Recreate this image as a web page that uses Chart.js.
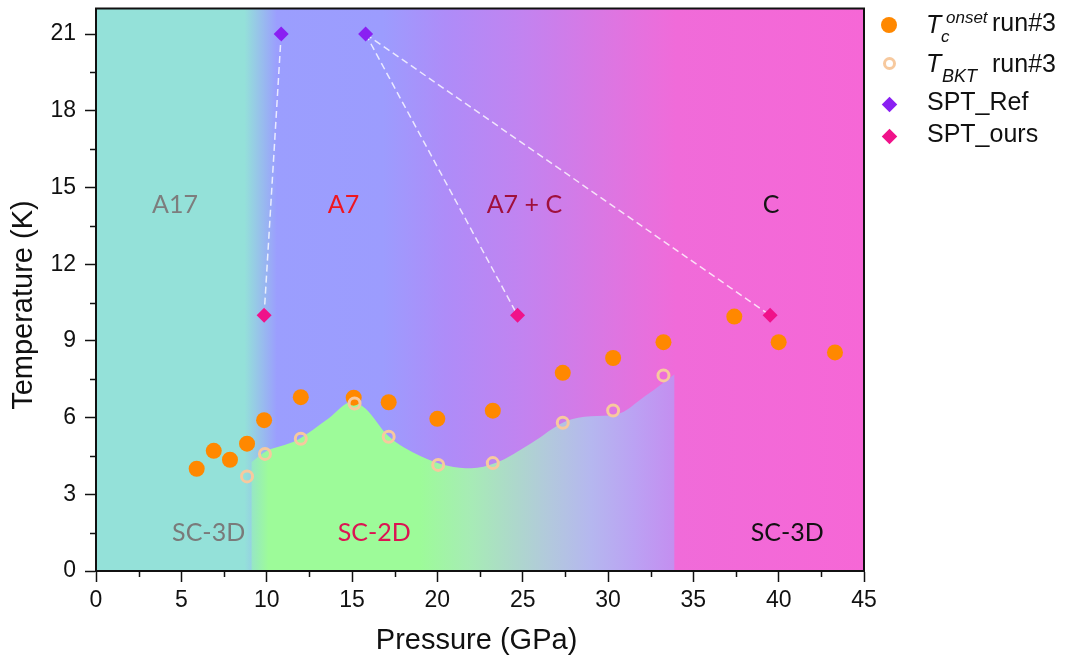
<!DOCTYPE html>
<html>
<head>
<meta charset="utf-8">
<script src="https://cdn.jsdelivr.net/npm/chart.js@4.4.1/dist/chart.umd.min.js"></script>
<style>
html,body{margin:0;padding:0;background:#fff;}
#wrap{position:relative;width:1065px;height:664px;overflow:hidden;}
#c{position:absolute;left:0;top:0;}
.lg{position:absolute;white-space:nowrap;line-height:1;font-family:"Liberation Sans",Arial,sans-serif;color:#111;}
.mk{position:absolute;}
</style>
</head>
<body>
<div id="wrap">
<canvas id="c" width="1065" height="664"></canvas>
<div id="legend"></div>
</div>
<script>
// ---- data ----
const tcPressure  = [5.9, 6.9, 7.85, 8.85, 9.85, 12.0, 15.1, 17.15, 20.0, 23.25, 27.35, 30.3, 33.25, 37.4, 40.0, 43.3];
const tcTemp      = [4.0, 4.7, 4.35, 4.98, 5.9, 6.8, 6.78, 6.6, 5.95, 6.27, 7.75, 8.33, 8.95, 9.95, 8.95, 8.55];
const bktPressure = [8.85, 9.9, 12.0, 15.15, 17.15, 20.05, 23.25, 27.35, 30.3, 33.25];
const bktTemp     = [3.7, 4.58, 5.17, 6.55, 5.25, 4.15, 4.22, 5.8, 6.28, 7.65];
const refPressure = [10.85, 15.8];
const refTemp     = [21, 21];
const oursPressure = [9.85, 24.7, 39.5];
const oursTemp     = [10, 10, 10];
// dashed links: [ref index, ours index]
const links = [[0, 0], [1, 1], [1, 2]];
// SC-2D region upper boundary
const sc2dPressure = [9.1, 9.8, 11.8, 13.6, 15.0, 15.8, 17.1, 19.0, 20.6, 22.0, 23.4, 25.5, 27.5, 29.0, 30.5, 32.2, 33.9];
const sc2dTemp     = [4.25, 4.62, 5.12, 5.95, 6.62, 6.35, 5.3, 4.5, 4.12, 4.02, 4.22, 5.0, 5.85, 6.05, 6.12, 6.85, 7.7];
// axis tick labels
const xTicks = [0, 5, 10, 15, 20, 25, 30, 35, 40, 45];
const yTicks = [0, 3, 6, 9, 12, 15, 18, 21];
const xTitle = 'Pressure (GPa)';
const yTitle = 'Temperature (K)';
// phase labels
const phaseText  = ['A17', 'A7', 'A7 + C', 'C', 'SC-3D', 'SC-2D', 'SC-3D'];
const phaseP     = [4.63, 14.5, 25.1, 39.55, 6.6, 16.3, 40.5];
const phaseT     = [14.3, 14.3, 14.3, 14.3, 1.5, 1.5, 1.5];
const phaseColor = ['#7d7d7d', '#ee1620', '#a0103c', '#151515', '#7a7a7a', '#dc1452', '#111111'];

// background gradient stops [pressure, colour]
const bgStops = [[0, '#94e1d9'], [8.7, '#94e1d9'], [10.6, '#9b9efe'], [16.8, '#9c9cfe'], [20.5, '#ae8cf8'], [25, '#c283f0'], [30, '#dc76e2'], [34, '#f06bd9'], [45, '#f667d6']];
const greenStops = [[9.1, '#96e6c6'], [10.1, '#9dfb99'], [19, '#9dfb99'], [22, '#a7ebb6'], [26.5, '#b2c9dc'], [29, '#b5b7ef'], [31.5, '#bba2f3'], [33.9, '#c48ef0']];

const FONT = '"Liberation Sans", Arial, sans-serif';
const TICKFONT = '"Liberation Sans Narrow", "Arial Narrow", "Liberation Sans", Arial, sans-serif';

function pts(xs, ys) { return xs.map((v, i) => ({x: v, y: ys[i]})); }

const linkSets = links.map(([r, o]) => ({
  label: 'link', data: [{x: refPressure[r], y: refTemp[r]}, {x: oursPressure[o], y: oursTemp[o]}],
  showLine: true, borderColor: 'rgba(255,255,255,0.78)', borderWidth: 1.5, borderDash: [7, 4],
  pointRadius: 0, fill: false, order: 5
}));

const bgPlugin = {
  id: 'bgPlugin',
  beforeDatasetsDraw(chart) {
    const {ctx, chartArea: a, scales: {x}} = chart;
    const x0 = x.getPixelForValue(0), x1 = x.getPixelForValue(45);
    const g = ctx.createLinearGradient(x0, 0, x1, 0);
    bgStops.forEach(([p, c]) => g.addColorStop(p / 45, c));
    ctx.save();
    ctx.fillStyle = g;
    ctx.fillRect(a.left, a.top, a.right - a.left, a.bottom - a.top);
    ctx.restore();
  },
  afterDatasetsDraw(chart) {
    const {ctx, scales: {x, y}} = chart;
    ctx.save();
    ctx.font = '25px Lato, "Open Sans", sans-serif';
    ctx.textAlign = 'center';
    ctx.textBaseline = 'middle';
    phaseText.forEach((t, i) => {
      ctx.fillStyle = phaseColor[i];
      ctx.fillText(t, x.getPixelForValue(phaseP[i]), y.getPixelForValue(phaseT[i]));
    });
    ctx.restore();
  },
  afterDraw(chart) {
    const {ctx, chartArea: a, scales: {x, y}} = chart;
    ctx.save();
    ctx.strokeStyle = '#111';
    ctx.lineWidth = 2;
    ctx.strokeRect(a.left, a.top, a.right - a.left, a.bottom - a.top);
    // minor ticks
    ctx.lineWidth = 1.5;
    ctx.beginPath();
    for (let v = 2.5; v < 45; v += 5) {
      const px = Math.round(x.getPixelForValue(v)) + 0.5;
      ctx.moveTo(px, a.bottom); ctx.lineTo(px, a.bottom + 6);
    }
    for (let v = 1.5; v < 22; v += 3) {
      const py = Math.round(y.getPixelForValue(v)) + 0.5;
      ctx.moveTo(a.left, py); ctx.lineTo(a.left - 6, py);
    }
    ctx.stroke();
    // axis titles
    ctx.fillStyle = '#111';
    ctx.font = '29px ' + FONT;
    ctx.textAlign = 'center';
    ctx.textBaseline = 'alphabetic';
    ctx.fillText(xTitle, x.getPixelForValue(22.3), 649);
    ctx.translate(32, y.getPixelForValue(10.4));
    ctx.rotate(-Math.PI / 2);
    ctx.fillText(yTitle, 0, 0);
    ctx.restore();
  }
};

const chart = new Chart(document.getElementById('c'), {
  type: 'scatter',
  data: {
    datasets: [
      {
        label: 'SC-2D', data: pts(sc2dPressure, sc2dTemp), showLine: true, fill: 'origin',
        cubicInterpolationMode: 'monotone', borderWidth: 0, borderColor: 'rgba(0,0,0,0)', pointRadius: 0, order: 10,
        backgroundColor(ctx) {
          const ch = ctx.chart;
          if (!ch.chartArea) return '#9dfb99';
          const x = ch.scales.x;
          const x0 = x.getPixelForValue(0), x1 = x.getPixelForValue(45);
          const g = ch.ctx.createLinearGradient(x0, 0, x1, 0);
          greenStops.forEach(([p, c]) => g.addColorStop(p / 45, c));
          return g;
        }
      },
      ...linkSets,
      {label: 'Tc onset run#3', data: pts(tcPressure, tcTemp), pointStyle: 'circle', pointRadius: 8,
        backgroundColor: '#ff8800', borderWidth: 0, order: 2},
      {label: 'TBKT run#3', data: pts(bktPressure, bktTemp), pointStyle: 'circle', pointRadius: 5.5,
        backgroundColor: 'rgba(0,0,0,0)', borderColor: '#f7c99e', borderWidth: 3, order: 1},
      {label: 'SPT_Ref', data: pts(refPressure, refTemp), pointStyle: 'rectRot', pointRadius: 7.5,
        backgroundColor: '#8a20f2', borderWidth: 0, order: 1},
      {label: 'SPT_ours', data: pts(oursPressure, oursTemp), pointStyle: 'rectRot', pointRadius: 7.5,
        backgroundColor: '#f0128a', borderWidth: 0, order: 1}
    ]
  },
  options: {
    responsive: false,
    animation: false,
    events: [],
    layout: {padding: {left: 0, right: 201, top: 8, bottom: 0}},
    plugins: {legend: {display: false}, tooltip: {enabled: false}},
    scales: {
      x: {
        type: 'linear', position: 'bottom', min: 0, max: 45,
        afterBuildTicks(s) { s.ticks = xTicks.map(v => ({value: v})); },
        ticks: {font: {family: TICKFONT, size: 23}, color: '#111', padding: 5, maxRotation: 0, autoSkip: false},
        grid: {drawOnChartArea: false, drawTicks: true, tickLength: 11, tickColor: '#111', tickWidth: 1.5, color: '#111'},
        border: {display: true, color: '#111', width: 2},
        title: {display: false},
        afterFit(s) { s.height = 93; s.paddingLeft = 0; s.paddingRight = 0; }
      },
      y: {
        type: 'linear', position: 'left', min: 0, max: 22,
        afterBuildTicks(s) { s.ticks = yTicks.map(v => ({value: v})); },
        ticks: {font: {family: TICKFONT, size: 23}, color: '#111', padding: 9, autoSkip: false},
        grid: {drawOnChartArea: false, drawTicks: true, tickLength: 11, tickColor: '#111', tickWidth: 1.5, color: '#111'},
        border: {display: true, color: '#111', width: 2},
        title: {display: false},
        afterFit(s) { s.width = 96; s.paddingTop = 0; s.paddingBottom = 0; }
      }
    }
  },
  plugins: [bgPlugin]
});

// ---- HTML legend (real text with super/subscripts) ----
const legendItems = [
  {marker: 'fill', color: '#ff8800', cy: 25, parts: [
    {t: 'T', size: 25, italic: true, left: 926, top: 12},
    {t: 'onset', size: 17, italic: true, left: 946, top: 9},
    {t: 'c', size: 17, italic: true, left: 941, top: 28},
    {t: 'run#3', size: 25, left: 992, top: 10}]},
  {marker: 'open', color: '#f7c99e', cy: 63, parts: [
    {t: 'T', size: 25, italic: true, left: 926, top: 51},
    {t: 'BKT', size: 18, italic: true, left: 942, top: 67},
    {t: 'run#3', size: 25, left: 992, top: 51}]},
  {marker: 'diamond', color: '#8a20f2', cy: 104, parts: [
    {t: 'SPT_Ref', size: 25, left: 927, top: 89}]},
  {marker: 'diamond', color: '#f0128a', cy: 136, parts: [
    {t: 'SPT_ours', size: 25, left: 927, top: 121}]}
];
const lg = document.getElementById('legend');
legendItems.forEach(it => {
  const m = document.createElement('div');
  m.className = 'mk';
  const cx = 889;
  if (it.marker === 'fill') {
    Object.assign(m.style, {left: (cx - 8) + 'px', top: (it.cy - 8) + 'px', width: '16px', height: '16px', borderRadius: '50%', background: it.color});
  } else if (it.marker === 'open') {
    Object.assign(m.style, {left: (cx - 6.5) + 'px', top: (it.cy - 6.5) + 'px', width: '7px', height: '7px', borderRadius: '50%', border: '3px solid ' + it.color});
  } else {
    Object.assign(m.style, {left: (cx - 5.5) + 'px', top: (it.cy - 5.5) + 'px', width: '11px', height: '11px', background: it.color, transform: 'rotate(45deg)'});
  }
  lg.appendChild(m);
  it.parts.forEach(p => {
    const s = document.createElement('span');
    s.className = 'lg';
    s.textContent = p.t;
    Object.assign(s.style, {left: p.left + 'px', top: p.top + 'px', fontSize: p.size + 'px', fontStyle: p.italic ? 'italic' : 'normal'});
    lg.appendChild(s);
  });
});
</script>
</body>
</html>
